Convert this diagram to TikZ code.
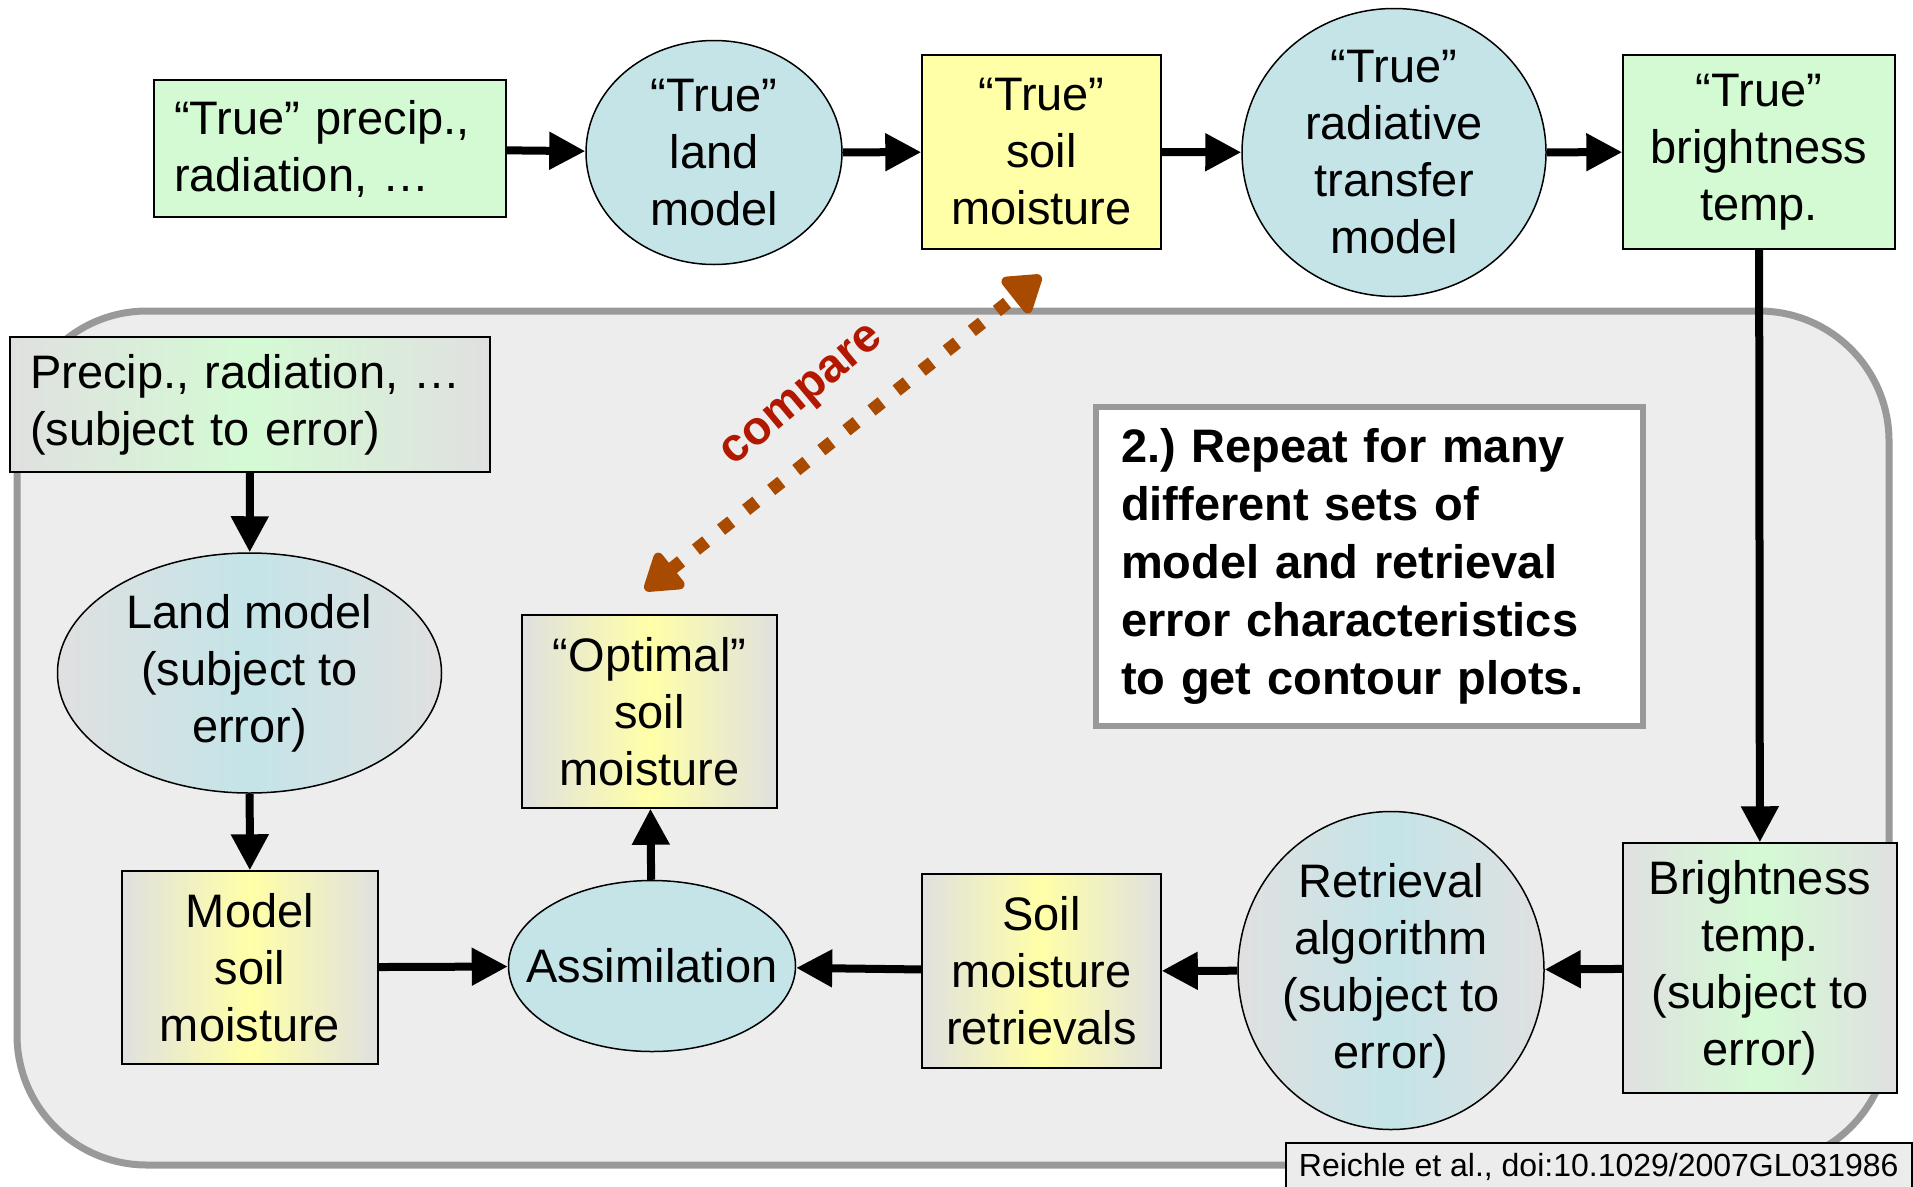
\documentclass[tikz,border=0pt]{standalone}
\usepackage{fontspec}
\setmainfont{Liberation Sans}
\usetikzlibrary{arrows.meta,shapes.geometric}
\definecolor{cgreen}{RGB}{212,250,212}
\definecolor{cblue}{RGB}{196,228,232}
\definecolor{cyellow}{RGB}{255,255,168}
\definecolor{cedge}{RGB}{224,224,224}
\definecolor{cbg}{RGB}{237,237,237}
\definecolor{cborder}{RGB}{153,153,153}
\definecolor{cbrown}{RGB}{168,74,0}
\definecolor{cred}{RGB}{178,24,0}
\definecolor{ccite}{RGB}{236,236,236}
\begin{document}
\begin{tikzpicture}[x=1pt,y=-1pt,
  base/.style={draw=black,line width=1.5pt,inner sep=0pt},
  box/.style={base,rectangle,align=center,font=\fontsize{47}{57}\selectfont},
  oval/.style={base,ellipse},
  txt/.style={inner sep=0pt,align=center,font=\fontsize{47}{57}\selectfont},
  arr/.style={line width=8pt,-{Triangle[length=36pt,width=36pt]}},
  gshade/.style={left color=cedge,right color=cedge,middle color=#1},
]
\useasboundingbox (0,0) rectangle (1913,1186);
\fill[white] (0,0) rectangle (1913,1186);

% big rounded panel
\draw[cborder,line width=7pt,fill=cbg,rounded corners=130pt] (17,311) rectangle (1889,1165);

% top row
\node[box,fill=cgreen,minimum width=352pt,minimum height=137pt,text width=312pt,align=left] (tprecip) at (330,148.5) {“True” precip.,\\radiation, …};
\node[oval,fill=cblue,minimum width=256pt,minimum height=224pt] (tland) at (714,152.5) {};
\node[txt] (tlandt) at (tland) {“True”\\land\\model};
\node[box,fill=cyellow,minimum width=239pt,minimum height=194pt] (tsoil) at (1041.5,152) {“True”\\soil\\moisture};
\node[oval,fill=cblue,minimum width=304pt,minimum height=288pt] (trt) at (1394,152.5) {};
\node[txt] (trtt) at (trt) {“True”\\radiative\\transfer\\model};
\node[box,fill=cgreen,minimum width=272pt,minimum height=194pt] (ttb) at (1759,152) {“True”\\brightness\\temp.};

% lower part
\node[box,gshade=cgreen,minimum width=480pt,minimum height=135pt,text width=440pt,align=left] (precip) at (250,404.5) {Precip., radiation, …\\(subject to error)};
\node[oval,gshade=cblue,minimum width=384pt,minimum height=240pt] (land) at (249.5,673) {};
\node[txt] (landt) at (land) {Land model\\(subject to\\error)};
\node[box,gshade=cyellow,minimum width=256pt,minimum height=193pt] (msm) at (250,967.5) {Model\\soil\\moisture};
\node[oval,fill=cblue,minimum width=287pt,minimum height=171pt] (assim) at (652,966) {};
\node[txt] (assimt) at (assim) {Assimilation};
\node[box,gshade=cyellow,minimum width=255pt,minimum height=193pt] (opt) at (649.5,711.5) {“Optimal”\\soil\\moisture};
\node[box,gshade=cyellow,minimum width=239pt,minimum height=194pt] (smr) at (1041.5,971) {Soil\\moisture\\retrievals};
\node[oval,gshade=cblue,minimum width=306pt,minimum height=318pt] (ralg) at (1391,970.5) {};
\node[txt] (ralgt) at (ralg) {Retrieval\\algorithm\\(subject to\\error)};
\node[box,gshade=cgreen,minimum width=274pt,minimum height=250pt] (btb) at (1760,968) {Brightness\\temp.\\(subject to\\error)};

% repeat box
\node[rectangle,draw=cborder,line width=6pt,fill=white,inner sep=0pt,minimum width=547pt,minimum height=319pt,text width=497pt,align=left,font=\bfseries\fontsize{47}{58}\selectfont] (rep) at (1369.5,566.5) {2.)\ Repeat for many\\different sets of\\model and retrieval\\error characteristics\\to get contour plots.};

% citation
\node[rectangle,draw=black,line width=1.5pt,fill=ccite,inner sep=0pt,minimum width=626pt,minimum height=48pt,anchor=north west,font=\fontsize{32}{36}\selectfont] (cite) at (1285,1142) {Reichle et al., doi:10.1029/2007GL031986};

% connectors
\draw[arr] (tprecip) -- (tland);
\draw[arr] (tland) -- (tsoil);
\draw[arr] (tsoil) -- (trt);
\draw[arr] (trt) -- (ttb);
\draw[arr] (ttb) -- (btb);
\draw[arr] (btb) -- (ralg);
\draw[arr] (ralg) -- (smr);
\draw[arr] (smr) -- (assim);
\draw[arr] (msm) -- (assim);
\draw[arr] (assim) -- (opt);
\draw[arr] (precip) -- (land);
\draw[arr] (land) -- (msm);

% compare arrow
\coordinate (c1) at (645,590);
\coordinate (c2) at (1041,276);
\draw[cbrown,line width=13pt,dash pattern=on 13pt off 19pt,line join=round,
  {Triangle[length=40pt,width=50pt,round]}-{Triangle[length=40pt,width=50pt,round]}] (c1) -- (c2);
\node[rotate=40,text=cred,inner sep=0pt,font=\bfseries\fontsize{47}{52}\selectfont] (cmp) at (804,398) {compare};
\end{tikzpicture}
\end{document}
